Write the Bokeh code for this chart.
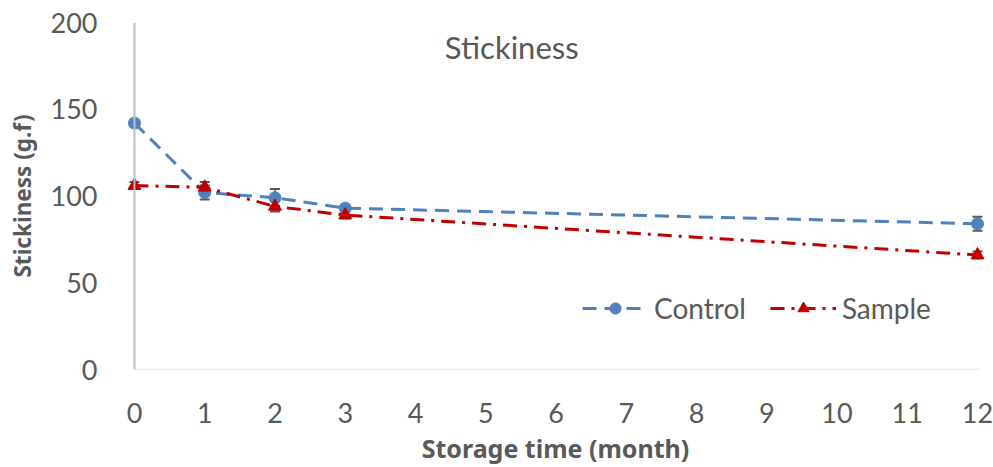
from bokeh.plotting import figure
from bokeh.models import ColumnDataSource, Whisker, TeeHead, Span, Legend, LegendItem, Label, FixedTicker, Range1d
from bokeh.embed import file_html
from bokeh.resources import INLINE

months = [0, 1, 2, 3, 12]
control = [142, 102, 99, 93, 84]
control_err = [2, 4, 5, 2, 4]
sample = [106, 105, 94, 89, 66]
sample_err = [2, 3, 3, 2, 2]
x_ticks = list(range(0, 13))
y_ticks = [0, 50, 100, 150, 200]

FONT = "Lato"
GRAY = "#595959"
BLUE = "#4f81bd"
RED = "#c00000"

p = figure(width=993, height=467, output_backend="svg", toolbar_location=None,
           x_range=Range1d(-0.199, 12.185), y_range=Range1d(0, 200),
           min_border_left=120, min_border_right=3, min_border_top=22, min_border_bottom=96)
p.outline_line_color = None
p.xgrid.grid_line_color = None
p.ygrid.grid_line_color = None

# axes
for ax in (p.xaxis, p.yaxis):
    ax.axis_line_color = None
    ax.major_tick_line_color = None
    ax.minor_tick_line_color = None
    ax.major_tick_out = 0
    ax.major_label_text_font = FONT
    ax.major_label_text_font_size = "27px"
    ax.major_label_text_color = GRAY
    ax.axis_label_text_font = "Noto Sans"
    ax.axis_label_text_font_style = "bold"
    ax.axis_label_text_color = GRAY
p.xaxis.ticker = FixedTicker(ticks=x_ticks)
p.yaxis.ticker = FixedTicker(ticks=y_ticks)
p.xaxis.major_label_standoff = 33
p.yaxis.major_label_standoff = 23
p.xaxis.axis_label = "Storage time (month)"
p.yaxis.axis_label = "Stickiness (g.f)"
p.xaxis.axis_label_text_font_size = "25px"
p.yaxis.axis_label_text_font_size = "22.5px"
p.xaxis.axis_label_standoff = 5
p.yaxis.axis_label_standoff = 10

# axis lines
p.add_layout(Span(location=months[0], dimension="height", line_color="#bfbfbf", line_width=2))
p.segment(x0=[months[0]], y0=[y_ticks[0]], x1=[months[-1] + 0.05], y1=[y_ticks[0]],
          line_color="#d9d9d9", line_width=1.5)

src = ColumnDataSource(dict(
    x=months, c=control, s=sample,
    cu=[v + e for v, e in zip(control, control_err)], cl=[v - e for v, e in zip(control, control_err)],
    su=[v + e for v, e in zip(sample, sample_err)], sl=[v - e for v, e in zip(sample, sample_err)],
))

cl = p.line("x", "c", source=src, line_color=BLUE, line_width=3, line_dash="14 8")
sl = p.line("x", "s", source=src, line_color=RED, line_width=3, line_dash="14 7 3 7")

for up, lo in (("cu", "cl"), ("su", "sl")):
    w = Whisker(source=src, base="x", upper=up, lower=lo, line_color=GRAY, line_width=1.5,
                upper_head=TeeHead(size=10, line_color=GRAY, line_width=2),
                lower_head=TeeHead(size=10, line_color=GRAY, line_width=2))
    p.add_layout(w)

cm = p.scatter("x", "c", source=src, marker="circle", size=12, fill_color=BLUE, line_color=BLUE)
sm = p.scatter("x", "s", source=src, marker="triangle", size=13, fill_color=RED, line_color=RED)

title = Label(x=5.37, y=186, text="Stickiness", text_font=FONT, text_font_size="31px",
              text_color=GRAY, text_align="center", text_baseline="middle")
p.add_layout(title)

legend = Legend(items=[LegendItem(label="Control", renderers=[cl, cm]),
                       LegendItem(label="Sample", renderers=[sl, sm])],
                location=(462, 44), orientation="horizontal", padding=0, margin=0,
                spacing=24, glyph_width=66, glyph_height=28, label_standoff=6,
                label_text_font=FONT, label_text_font_size="28px", label_text_color=GRAY,
                border_line_color=None, background_fill_alpha=0)
p.add_layout(legend)

open("out.html", "w").write(file_html(p, INLINE))
